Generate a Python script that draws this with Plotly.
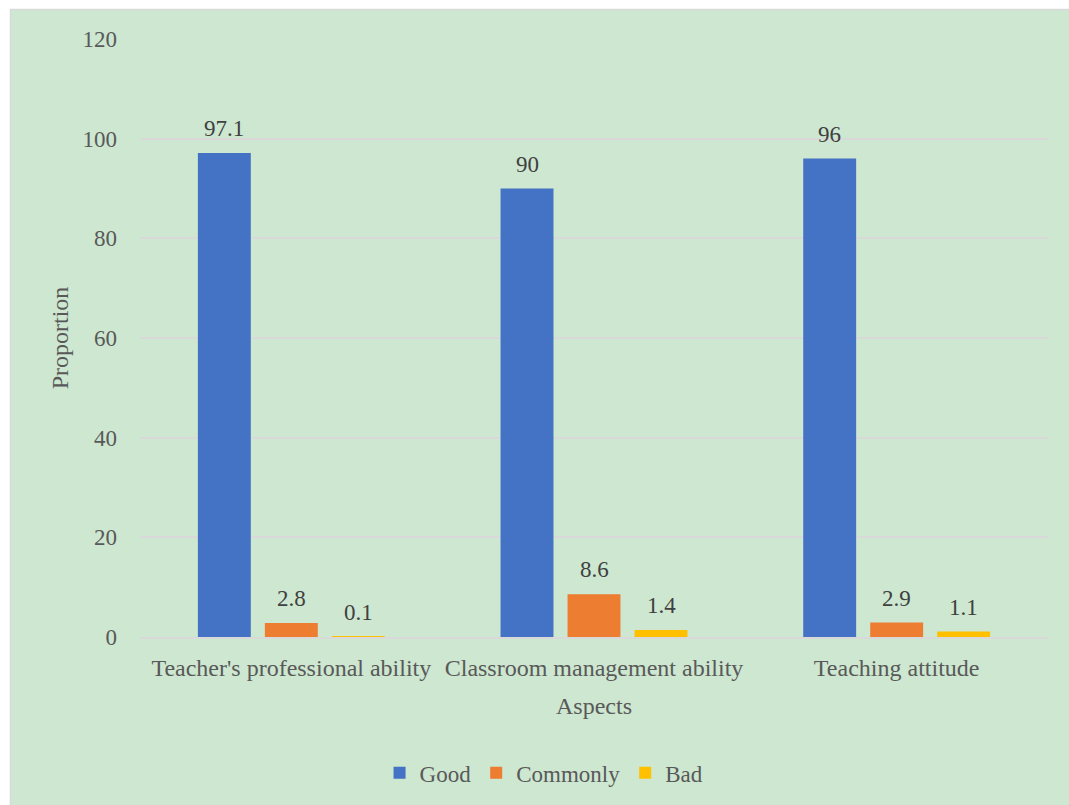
import plotly.graph_objects as go

categories = ["Teacher's professional ability", "Classroom management ability", "Teaching attitude"]
good = [97.1, 90, 96]
commonly = [2.8, 8.6, 2.9]
bad = [0.1, 1.4, 1.1]
series_names = ["Good", "Commonly", "Bad"]
colors = ["#4472C4", "#ED7D31", "#FFC000"]

W, H = 1069, 805
L, R, T, B = 140, 21, 39, 167
pw, ph = W - L - R, H - T - B

FONT = "Liberation Serif"
fig = go.Figure()
shifts = [-67, 0, 67]
annotations = []
for name, vals, c, sh in zip(series_names, [good, commonly, bad], colors, shifts):
    fig.add_trace(go.Bar(
        x=categories, y=vals, name=name, marker_color=c, marker_line_width=0,
    ))
    for cat, v in zip(categories, vals):
        annotations.append(dict(x=cat, y=v, text=str(v), showarrow=False, xshift=sh,
                                yanchor="bottom", yshift=10,
                                font=dict(family=FONT, size=23, color="#404040")))

fig.update_layout(
    width=W, height=H,
    margin=dict(l=L, r=R, t=T, b=B),
    paper_bgcolor="white", plot_bgcolor="rgba(0,0,0,0)",
    barmode="group", bargap=0.336, bargroupgap=0.21,
    font=dict(family=FONT, size=23, color="#595959"),
    showlegend=True,
    annotations=annotations,
    legend=dict(orientation="h", x=0.445, xanchor="center", y=-0.225, yanchor="middle",
                font=dict(family=FONT, size=23, color="#595959"), itemwidth=30,
                bgcolor="rgba(0,0,0,0)"),
    shapes=[dict(type="rect", xref="paper", yref="paper", layer="below",
                 x0=(10.5 - L) / pw, x1=(W + 5 - L) / pw,
                 y0=-(B + 5) / ph, y1=1 + (T - 9.5) / ph,
                 fillcolor="#CDE7D0", line=dict(color="#D9D9D9", width=1.5))],
)
fig.update_yaxes(range=[0, 120], dtick=20, showgrid=True, gridcolor="#D9D9D9", gridwidth=1.5,
                 zeroline=False, showline=False, ticks="", ticklabelstandoff=22,
                 tickfont=dict(family=FONT, size=23, color="#595959"),
                 title=dict(text="Proportion", font=dict(family=FONT, size=24, color="#595959"), standoff=7))
fig.update_xaxes(showline=True, linecolor="#D9D9D9", linewidth=1.5, ticks="",
                 ticklabelstandoff=8,
                 tickfont=dict(family=FONT, size=24, color="#595959"),
                 title=dict(text="Aspects", font=dict(family=FONT, size=24, color="#595959"), standoff=18))

fig.write_html("out.html")
